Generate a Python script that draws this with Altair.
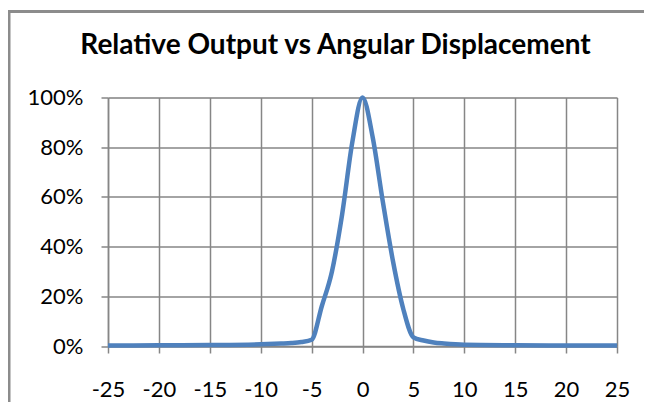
import altair as alt
import pandas as pd

# Angular displacement (degrees) and relative output (fraction of peak)
angle = [-25, -20, -15, -10, -8, -7, -6, -5, -4, -3, -2, -1, 0, 1, 2, 3, 4, 5, 6, 7, 8, 10, 15, 20, 25]
output = [0.002, 0.003, 0.004, 0.007, 0.010, 0.012, 0.016, 0.025, 0.16, 0.30, 0.53, 0.82, 1.00,
          0.84, 0.58, 0.34, 0.15, 0.035, 0.022, 0.014, 0.010, 0.005, 0.003, 0.002, 0.002]

x_ticks = list(range(-25, 26, 5))
y_ticks = [0, 0.2, 0.4, 0.6, 0.8, 1.0]

df = pd.DataFrame({"angle": angle, "output": output})

W, H = 509, 248.5
FONT = "Lato"
GRID = "#868686"

line = alt.Chart(df).mark_line(
    color="#4F81BD", strokeWidth=4.5, interpolate="monotone", clip=False
).encode(
    x=alt.X("angle:Q", scale=alt.Scale(domain=[-25, 25], nice=False),
            axis=alt.Axis(values=x_ticks, title=None, grid=True, gridColor=GRID, gridWidth=1.5,
                          domainColor=GRID, domainWidth=1.5, tickColor=GRID, tickWidth=1.5,
                          tickSize=7, labelFont=FONT, labelFontSize=22, labelColor="#000000",
                          labelPadding=26, labelFlush=False, labelExpr="datum.value + ''")),
    y=alt.Y("output:Q", scale=alt.Scale(domain=[0, 1], nice=False),
            axis=alt.Axis(values=y_ticks, format=".0%", title=None, grid=True, gridColor=GRID,
                          gridWidth=1.5, domainColor=GRID, domainWidth=1.5, tickColor=GRID,
                          tickWidth=1.5, tickSize=7, labelFont=FONT, labelFontSize=22,
                          labelColor="#000000", labelPadding=18, labelBaseline="middle",
                          labelFlush=False)),
)

frame_src = pd.DataFrame({"a": [0]})
left_edge = alt.Chart(frame_src).mark_rule(color="#8C8C8C", strokeWidth=3, clip=False).encode(
    x=alt.value(-99), y=alt.value(-87.5), y2=alt.value(H + 200),
)
top_edge = alt.Chart(frame_src).mark_rule(color="#8C8C8C", strokeWidth=3, clip=False).encode(
    x=alt.value(-100.5), x2=alt.value(W + 200), y=alt.value(-86),
)

chart = alt.layer(left_edge, top_edge, line).properties(
    width=W, height=H,
    title=alt.TitleParams("Relative Output vs Angular Displacement", font=FONT, fontSize=28,
                          fontWeight="bold", color="#000000", anchor="middle", dx=-27,
                          offset=0, baseline="alphabetic", dy=73.5),
    autosize=alt.AutoSizeParams(type="none"),
    padding={"left": 100, "top": 89.5, "right": 27, "bottom": 56},
).configure_view(stroke=None).configure(background="#FFFFFF")

chart.save("out.html", embed_options={"renderer": "svg", "actions": False})
